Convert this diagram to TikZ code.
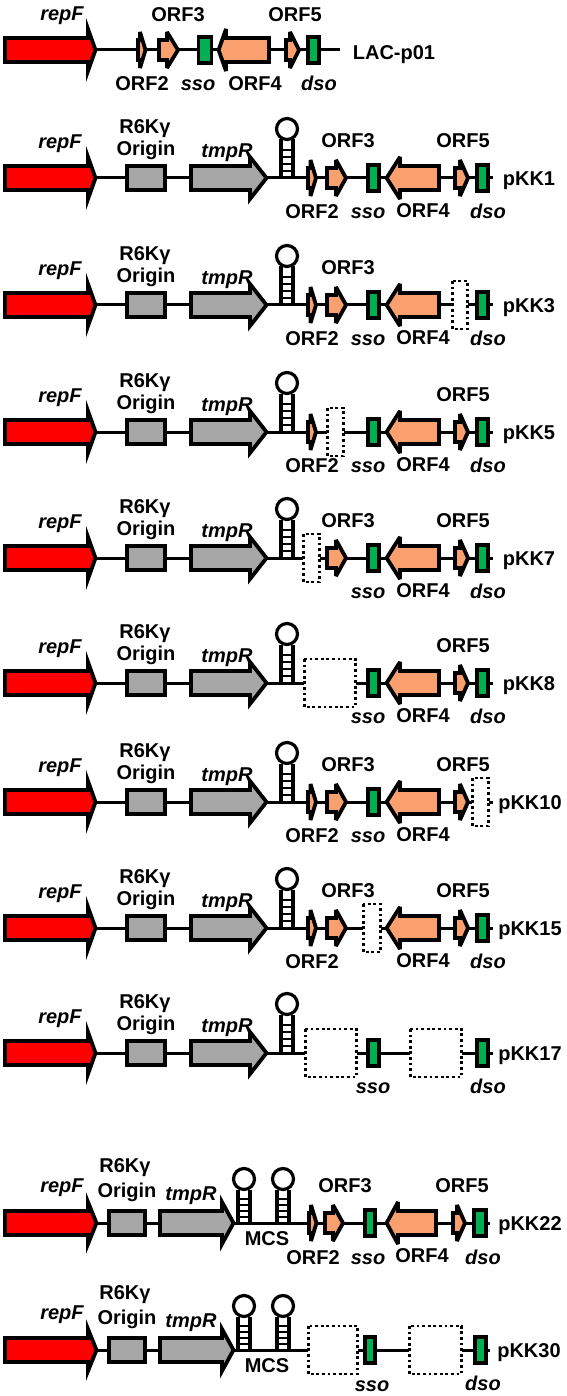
\documentclass[tikz,border=0pt]{standalone}
\usepackage{fontspec}
\setmainfont{Liberation Sans}
\definecolor{repred}{RGB}{255,0,0}
\definecolor{origray}{RGB}{166,166,166}
\definecolor{orfsalmon}{RGB}{250,160,110}
\definecolor{sitegreen}{RGB}{0,176,80}
\newcommand{\lblfont}{\fontsize{20}{22}\selectfont\bfseries}
\tikzset{
  backbone/.style={line width=3pt},
  gene/.style={draw=black, line width=3.8pt, line join=miter},
  repgene/.style={gene, fill=repred},
  grygene/.style={gene, fill=origray},
  orfgene/.style={gene, fill=orfsalmon, miter limit=2.5},
  sitebox/.style={gene, fill=sitegreen},
  deleted/.style={draw=black, fill=white, line width=2.8pt, dash pattern=on 2.8pt off 2.8pt},
  lbl/.style={font=\lblfont, inner sep=0pt, text height=14.5pt, text depth=0pt},
  ilbl/.style={lbl, font=\lblfont\itshape},
  stemline/.style={line width=3.2pt},
  rung/.style={line width=2pt}
}
% big gene arrow: style, body end, head start, tip, row y
\newcommand{\bigarrow}[5]{\filldraw[#1] (#2,#5-12) -- (#3,#5-12) -- (#3,#5-21) -- (#4,#5) -- (#3,#5+21) -- (#3,#5+12) -- (#2,#5+12) -- cycle;}
% small ORF arrow: body end, head start, tip, row y
\newcommand{\orfarrow}[4]{\filldraw[orfgene] (#1,#4-10) -- (#2,#4-10) -- (#2,#4-18) -- (#3,#4) -- (#2,#4+18) -- (#2,#4+10) -- (#1,#4+10) -- cycle;}
% sso / dso site
\newcommand{\oribox}[3]{\filldraw[sitebox] (#1,#3-13.2) rectangle (#2,#3+13.2);}
% deleted region
\newcommand{\delbox}[3]{\filldraw[deleted] (#1,#3-24) rectangle (#2,#3+24);}
% terminator: x, row y, stem length, loop centre height
\newcommand{\hairpin}[4]{%
  \draw[stemline] (#1-6,#2) -- (#1-6,#2-#3) (#1+6,#2) -- (#1+6,#2-#3);
  \foreach \k in {1,...,4} {\draw[rung] (#1-6,#2-#3*\k/5.5) -- (#1+6,#2-#3*\k/5.5);}
  \draw[stemline] (#1,#2-#4) circle [radius=10.5pt];}
% repF, R6K origin, tmpR and terminator of the pKK vectors
\newcommand{\kkleft}[2]{%
  \bigarrow{repgene}{5}{88}{95.5}{#1}
  \filldraw[grygene] (127,#1-12.2) rectangle (165,#1+12.2);
  \bigarrow{grygene}{191}{250}{266.5}{#1}
  \hairpin{287}{#1}{38.5}{49}
  \node[ilbl] (#2rep) at (60,#1-37) {repF};
  \node[lbl] (#2r6k) at (145,#1-52) {R6Kγ};
  \node[lbl] (#2ori) at (146,#1-30) {Origin};
  \node[ilbl] (#2tmp) at (227,#1-28) {tmpR};}
% same with the MCS
\newcommand{\mcsleft}[2]{%
  \bigarrow{repgene}{5}{88}{96.5}{#1}
  \filldraw[grygene] (109,#1-12.2) rectangle (145,#1+12.2);
  \bigarrow{grygene}{160}{222}{233.5}{#1}
  \hairpin{244}{#1}{33.5}{44}
  \hairpin{283}{#1}{33.5}{44}
  \node[ilbl] (#2rep) at (62,#1-38) {repF};
  \node[lbl] (#2r6k) at (125,#1-58) {R6Kγ};
  \node[lbl] (#2ori) at (127,#1-33) {Origin};
  \node[ilbl] (#2tmp) at (191,#1-30) {tmpR};
  \node[lbl] (#2mcs) at (267,#1+15) {MCS};}

\begin{document}
\begin{tikzpicture}[x=1pt,y=-1pt]
\useasboundingbox (0,0) rectangle (566,1396);

% LAC-p01
\coordinate (lacA) at (20,50);
\coordinate (lacB) at (340,50);
\draw[backbone] (lacA) -- (lacB);
\bigarrow{repgene}{5}{88}{95.5}{50}
\orfarrow{137.9}{140}{145.5}{50}
\orfarrow{158.9}{167}{178}{50}
\oribox{198.5}{211.5}{50}
\bigarrow{orfgene}{269}{226}{218.6}{50}
\orfarrow{285.9}{290}{299}{50}
\oribox{308}{319}{50}
\node[ilbl] (lacrep) at (62,13) {repF};
\node[lbl] (lacorf3) at (178,14) {ORF3};
\node[lbl] (lacorf5) at (295,14) {ORF5};
\node[lbl] (lacorf2) at (142,83) {ORF2};
\node[ilbl] (lacsso) at (198,83) {sso};
\node[lbl] (lacorf4) at (255,83) {ORF4};
\node[ilbl] (lacdso) at (319,83) {dso};
\node[lbl] (lacname) at (394,52) {LAC-p01};

% pKK1
\coordinate (kkoneA) at (20,178);
\coordinate (kkoneB) at (493,178);
\draw[backbone] (kkoneA) -- (kkoneB);
\kkleft{178}{kkone}
\orfarrow{307.9}{310.5}{316}{178}
\orfarrow{326.9}{336}{346}{178}
\oribox{368}{379}{178}
\bigarrow{orfgene}{439}{400}{386.6}{178}
\orfarrow{454.9}{460}{468}{178}
\oribox{477}{488}{178}
\node[lbl] (kkoneorf3) at (348,140) {ORF3};
\node[lbl] (kkoneorf5) at (463,140) {ORF5};
\node[lbl] (kkoneorf2) at (312,211) {ORF2};
\node[ilbl] (kkonesso) at (368,211) {sso};
\node[lbl] (kkoneorf4) at (423,210) {ORF4};
\node[ilbl] (kkonedso) at (488,211) {dso};
\node[lbl] (kkonename) at (529,178) {pKK1};

% pKK3
\coordinate (kkthreeA) at (20,305);
\coordinate (kkthreeB) at (493,305);
\draw[backbone] (kkthreeA) -- (kkthreeB);
\kkleft{305}{kkthree}
\orfarrow{307.9}{310.5}{316}{305}
\orfarrow{326.9}{336}{346}{305}
\oribox{368}{379}{305}
\bigarrow{orfgene}{439}{400}{386.6}{305}
\delbox{452.4}{467.6}{305}
\oribox{477}{488}{305}
\node[lbl] (kkthreeorf3) at (348,267) {ORF3};
\node[lbl] (kkthreeorf2) at (312,338) {ORF2};
\node[ilbl] (kkthreesso) at (368,338) {sso};
\node[lbl] (kkthreeorf4) at (423,337) {ORF4};
\node[ilbl] (kkthreedso) at (488,338) {dso};
\node[lbl] (kkthreename) at (529,305) {pKK3};

% pKK5
\coordinate (kkfiveA) at (20,432);
\coordinate (kkfiveB) at (493,432);
\draw[backbone] (kkfiveA) -- (kkfiveB);
\kkleft{432}{kkfive}
\orfarrow{307.9}{310.5}{316}{432}
\delbox{327.4}{343.6}{432}
\oribox{368}{379}{432}
\bigarrow{orfgene}{439}{400}{386.6}{432}
\orfarrow{454.9}{460}{468}{432}
\oribox{477}{488}{432}
\node[lbl] (kkfiveorf5) at (463,394) {ORF5};
\node[lbl] (kkfiveorf2) at (312,465) {ORF2};
\node[ilbl] (kkfivesso) at (368,465) {sso};
\node[lbl] (kkfiveorf4) at (423,464) {ORF4};
\node[ilbl] (kkfivedso) at (488,465) {dso};
\node[lbl] (kkfivename) at (529,432) {pKK5};

% pKK7
\coordinate (kksevenA) at (20,558);
\coordinate (kksevenB) at (493,558);
\draw[backbone] (kksevenA) -- (kksevenB);
\kkleft{558}{kkseven}
\delbox{303.4}{319.6}{558}
\orfarrow{326.9}{336}{346}{558}
\oribox{368}{379}{558}
\bigarrow{orfgene}{439}{400}{386.6}{558}
\orfarrow{454.9}{460}{468}{558}
\oribox{477}{488}{558}
\node[lbl] (kksevenorf3) at (348,520) {ORF3};
\node[lbl] (kksevenorf5) at (463,520) {ORF5};
\node[ilbl] (kksevensso) at (368,591) {sso};
\node[lbl] (kksevenorf4) at (423,590) {ORF4};
\node[ilbl] (kksevendso) at (488,591) {dso};
\node[lbl] (kksevenname) at (529,558) {pKK7};

% pKK8
\coordinate (kkeightA) at (20,683);
\coordinate (kkeightB) at (493,683);
\draw[backbone] (kkeightA) -- (kkeightB);
\kkleft{683}{kkeight}
\delbox{304.4}{355.6}{683}
\oribox{368}{379}{683}
\bigarrow{orfgene}{439}{400}{386.6}{683}
\orfarrow{454.9}{460}{468}{683}
\oribox{477}{488}{683}
\node[lbl] (kkeightorf5) at (463,645) {ORF5};
\node[ilbl] (kkeightsso) at (368,716) {sso};
\node[lbl] (kkeightorf4) at (423,715) {ORF4};
\node[ilbl] (kkeightdso) at (488,716) {dso};
\node[lbl] (kkeightname) at (529,683) {pKK8};

% pKK10
\coordinate (kktenA) at (20,802);
\coordinate (kktenB) at (493,802);
\draw[backbone] (kktenA) -- (kktenB);
\kkleft{802}{kkten}
\orfarrow{307.9}{310.5}{316}{802}
\orfarrow{326.9}{336}{346}{802}
\oribox{368}{379}{802}
\bigarrow{orfgene}{439}{400}{386.6}{802}
\orfarrow{454.9}{460}{468}{802}
\delbox{472.4}{488.6}{802}
\node[lbl] (kktenorf3) at (348,764) {ORF3};
\node[lbl] (kktenorf5) at (463,764) {ORF5};
\node[lbl] (kktenorf2) at (312,835) {ORF2};
\node[ilbl] (kktensso) at (368,835) {sso};
\node[lbl] (kktenorf4) at (423,834) {ORF4};
\node[lbl] (kktenname) at (530,802) {pKK10};

% pKK15
\coordinate (kkfifteenA) at (20,928);
\coordinate (kkfifteenB) at (493,928);
\draw[backbone] (kkfifteenA) -- (kkfifteenB);
\kkleft{928}{kkfifteen}
\orfarrow{307.9}{310.5}{316}{928}
\orfarrow{326.9}{336}{346}{928}
\delbox{363.4}{380.6}{928}
\bigarrow{orfgene}{439}{400}{386.6}{928}
\orfarrow{454.9}{460}{468}{928}
\oribox{477}{488}{928}
\node[lbl] (kkfifteenorf3) at (348,890) {ORF3};
\node[lbl] (kkfifteenorf5) at (463,890) {ORF5};
\node[lbl] (kkfifteenorf2) at (312,961) {ORF2};
\node[lbl] (kkfifteenorf4) at (423,960) {ORF4};
\node[ilbl] (kkfifteendso) at (488,961) {dso};
\node[lbl] (kkfifteenname) at (530,928) {pKK15};

% pKK17
\coordinate (kkseventeenA) at (20,1053);
\coordinate (kkseventeenB) at (493,1053);
\draw[backbone] (kkseventeenA) -- (kkseventeenB);
\kkleft{1053}{kkseventeen}
\delbox{305.4}{356.6}{1053}
\oribox{368}{379}{1053}
\delbox{410.4}{461.6}{1053}
\oribox{477}{488}{1053}
\node[ilbl] (kkseventeensso) at (373,1086) {sso};
\node[ilbl] (kkseventeendso) at (488,1086) {dso};
\node[lbl] (kkseventeenname) at (530,1053) {pKK17};

% pKK22
\coordinate (kktwentytwoA) at (20,1223);
\coordinate (kktwentytwoB) at (490,1223);
\draw[backbone] (kktwentytwoA) -- (kktwentytwoB);
\mcsleft{1223}{kktwentytwo}
\orfarrow{308.9}{311}{316.5}{1223}
\orfarrow{324.9}{333}{343}{1223}
\oribox{365}{375}{1223}
\bigarrow{orfgene}{436}{398}{386.6}{1223}
\orfarrow{452.9}{457}{465}{1223}
\oribox{474}{486}{1223}
\node[lbl] (kktwentytwoorf3) at (345,1185) {ORF3};
\node[lbl] (kktwentytwoorf5) at (462,1185) {ORF5};
\node[lbl] (kktwentytwoorf2) at (313,1257) {ORF2};
\node[ilbl] (kktwentytwosso) at (368,1257) {sso};
\node[lbl] (kktwentytwoorf4) at (422,1255) {ORF4};
\node[ilbl] (kktwentytwodso) at (483,1257) {dso};
\node[lbl] (kktwentytwoname) at (530,1223) {pKK22};

% pKK30
\coordinate (kkthirtyA) at (20,1350);
\coordinate (kkthirtyB) at (490,1350);
\draw[backbone] (kkthirtyA) -- (kkthirtyB);
\mcsleft{1350}{kkthirty}
\delbox{308.4}{357.6}{1350}
\oribox{365}{375}{1350}
\delbox{409.4}{461.6}{1350}
\oribox{475}{486}{1350}
\node[ilbl] (kkthirtysso) at (372,1384) {sso};
\node[ilbl] (kkthirtydso) at (483,1383) {dso};
\node[lbl] (kkthirtyname) at (529,1350) {pKK30};
\end{tikzpicture}
\end{document}
